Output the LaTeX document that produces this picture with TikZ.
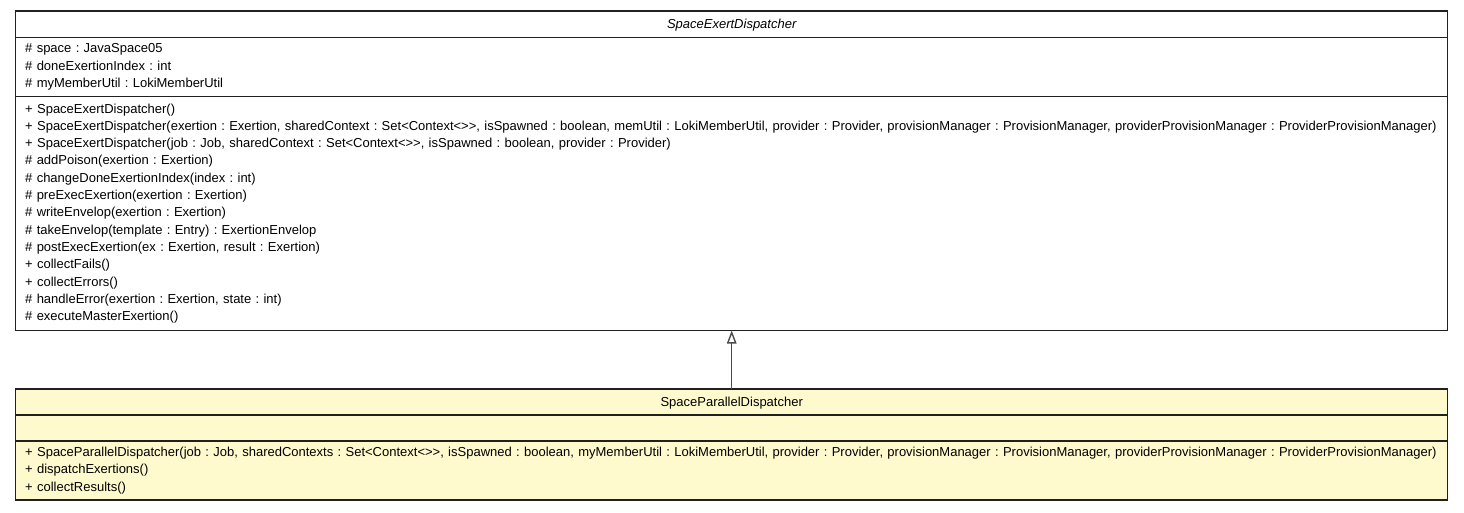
\documentclass[tikz,border=0pt]{standalone}
\usepackage{fontspec}
\setmainfont{Liberation Sans}[Ligatures=TeXOff]
\usetikzlibrary{positioning,arrows.meta}
\definecolor{classfill}{HTML}{FFFACD}
\definecolor{umlline}{HTML}{202020}
\frenchspacing

\begin{document}
\begin{tikzpicture}[
    x=1pt, y=-1pt,
    node distance=0pt,
    every node/.style={font=\fontsize{13}{17.3}\selectfont, outer sep=0pt},
    classpart/.style={draw=umlline, line width=1.1pt, minimum width=1432pt,
        inner xsep=9.5pt, inner ysep=0pt},
    classname/.style={classpart, align=center, text depth=0pt},
    members/.style={classpart, text width=1413pt, align=left},
    inherit/.style={-{Triangle[open, length=13pt, width=9.5pt]}, draw=black!70, line width=1.4pt}
]
    \useasboundingbox (0,0) rectangle (1464,512);

    % superclass
    \node[classname, anchor=north west, minimum height=26.5pt] (sedTitle) at (15.7,11)
        {\itshape SpaceExertDispatcher};
    \node[members, minimum height=59pt, below=of sedTitle] (sedAttrs)
        {\# space : JavaSpace05\\
         \# doneExertionIndex : int\\
         \# myMemberUtil : LokiMemberUtil};
    \node[members, minimum height=234pt, below=of sedAttrs] (sedOps)
        {+ SpaceExertDispatcher()\\
         + SpaceExertDispatcher(exertion : Exertion, sharedContext : Set<Context<>>, isSpawned : boolean, memUtil : LokiMemberUtil, provider : Provider, provisionManager : ProvisionManager, providerProvisionManager : ProviderProvisionManager)\\
         + SpaceExertDispatcher(job : Job, sharedContext : Set<Context<>>, isSpawned : boolean, provider : Provider)\\
         \# addPoison(exertion : Exertion)\\
         \# changeDoneExertionIndex(index : int)\\
         \# preExecExertion(exertion : Exertion)\\
         \# writeEnvelop(exertion : Exertion)\\
         \# takeEnvelop(template : Entry) : ExertionEnvelop\\
         \# postExecExertion(ex : Exertion, result : Exertion)\\
         + collectFails()\\
         + collectErrors()\\
         \# handleError(exertion : Exertion, state : int)\\
         \# executeMasterExertion()};

    % subclass
    \node[classname, fill=classfill, anchor=north west, minimum height=26pt] (spdTitle) at (15.7,389)
        {SpaceParallelDispatcher};
    \node[members, fill=classfill, minimum height=26pt, below=of spdTitle] (spdAttrs) {};
    \node[members, fill=classfill, minimum height=59pt, below=of spdAttrs] (spdOps)
        {+ SpaceParallelDispatcher(job : Job, sharedContexts : Set<Context<>>, isSpawned : boolean, myMemberUtil : LokiMemberUtil, provider : Provider, provisionManager : ProvisionManager, providerProvisionManager : ProviderProvisionManager)\\
         + dispatchExertions()\\
         + collectResults()};

    \draw[inherit] (spdTitle.north) -- (sedOps.south);
\end{tikzpicture}
\end{document}
